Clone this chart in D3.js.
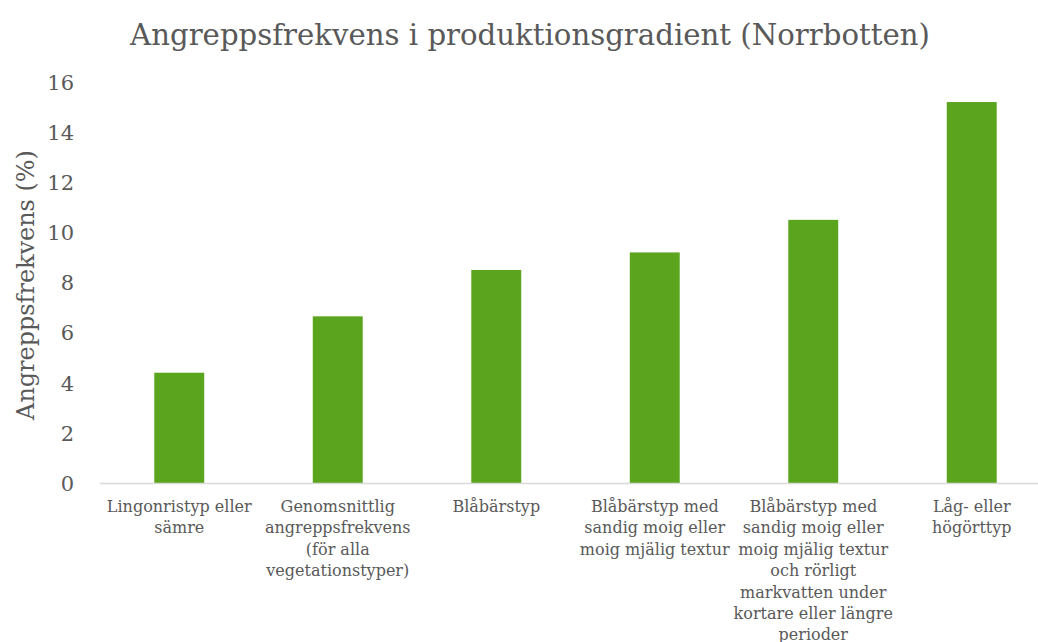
<!DOCTYPE html>
<html>
<head>
<meta charset="utf-8">
<script src="https://cdn.jsdelivr.net/npm/d3@7"></script>
<style>
  body { margin: 0; background: #fff; }
  svg text { font-family: "DejaVu Serif", "Liberation Serif", serif; fill: #595959; }
</style>
</head>
<body>
<div id="chart"></div>
<script>
// chart data
var categories = [
  "Lingonristyp eller\nsämre",
  "Genomsnittlig\nangreppsfrekvens\n(för alla\nvegetationstyper)",
  "Blåbärstyp",
  "Blåbärstyp med\nsandig moig eller\nmoig mjälig textur",
  "Blåbärstyp med\nsandig moig eller\nmoig mjälig textur\noch rörligt\nmarkvatten under\nkortare eller längre\nperioder",
  "Låg- eller\nhögörttyp"
];
var values = [4.4, 6.65, 8.5, 9.2, 10.5, 15.2];
var yTicks = [0, 2, 4, 6, 8, 10, 12, 14, 16];
var title = "Angreppsfrekvens i produktionsgradient (Norrbotten)";
var yTitle = "Angreppsfrekvens (%)";

var width = 1038, height = 642;
var plotLeft = 100, plotRight = 1051, plotTop = 82, plotBottom = 483;

var svg = d3.select("#chart").append("svg")
  .attr("width", width)
  .attr("height", height);

var x = d3.scaleBand()
  .domain(d3.range(categories.length))
  .range([plotLeft, plotRight])
  .paddingInner(0.685)
  .paddingOuter(0.3425);

var y = d3.scaleLinear()
  .domain([0, 16])
  .range([plotBottom, plotTop]);

// fit a text element to a target width
function fit(sel, target) {
  var w = sel.node().getComputedTextLength();
  var fs = parseFloat(sel.attr("font-size"));
  sel.attr("font-size", fs * target / w);
}

// title
svg.append("text")
  .attr("x", 530)
  .attr("y", 45)
  .attr("text-anchor", "middle")
  .attr("font-size", 32)
  .text(title)
  .call(fit, 800);

// y axis title
svg.append("text")
  .attr("transform", "translate(34,285) rotate(-90)")
  .attr("text-anchor", "middle")
  .attr("font-size", 26)
  .text(yTitle)
  .call(fit, 270);

// y axis tick labels
var yAxis = svg.append("g")
  .attr("transform", "translate(74,0)")
  .call(d3.axisLeft(y).tickValues(yTicks).tickSize(0).tickPadding(0));
yAxis.select(".domain").remove();
yAxis.selectAll("text")
  .attr("font-size", 21)
  .style("font-family", "'DejaVu Serif', serif")
  .attr("fill", "#595959")
  .attr("dy", "0.35em");

// bars
svg.selectAll(".bar")
  .data(values)
  .enter().append("rect")
  .attr("class", "bar")
  .attr("x", function(d, i) { return x(i); })
  .attr("y", function(d) { return y(d); })
  .attr("width", x.bandwidth())
  .attr("height", function(d) { return y(0) - y(d); })
  .attr("fill", "#5aa51d");

// x axis line
svg.append("line")
  .attr("x1", plotLeft).attr("x2", plotRight)
  .attr("y1", plotBottom + 0.5).attr("y2", plotBottom + 0.5)
  .attr("stroke", "#d9d9d9")
  .attr("stroke-width", 1.5);

// category labels
var lab = svg.selectAll(".cat")
  .data(categories)
  .enter().append("text")
  .attr("class", "cat")
  .attr("text-anchor", "middle")
  .attr("font-size", 16)
  .attr("transform", function(d, i) { return "translate(" + (x(i) + x.bandwidth() / 2) + ",512)"; });
lab.selectAll("tspan")
  .data(function(d) { return d.split("\n"); })
  .enter().append("tspan")
  .attr("x", 0)
  .attr("y", function(d, i) { return i * 21.4; })
  .text(function(d) { return d; });
</script>
</body>
</html>
